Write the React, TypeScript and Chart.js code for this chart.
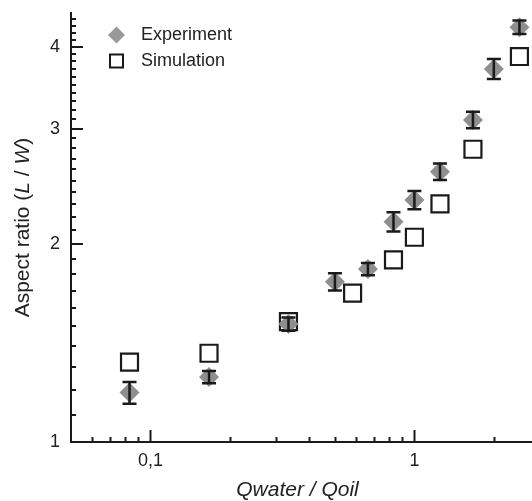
import React, { useEffect, useRef } from 'react';
import { Chart, registerables } from 'chart.js';

Chart.register(...registerables);

// ---- data ----
const expX = [0.0833, 0.1667, 0.3333, 0.5, 0.6667, 0.8333, 1, 1.25, 1.6667, 2, 2.5];
const expY = [1.189, 1.256, 1.512, 1.754, 1.834, 2.165, 2.336, 2.58, 3.093, 3.699, 4.282];
const expErr = [0.045, 0.027, 0.035, 0.053, 0.039, 0.073, 0.075, 0.075, 0.09, 0.13, 0.1];

const simX = [0.0833, 0.1667, 0.3333, 0.5833, 0.8333, 1, 1.25, 1.6667, 2.5];
const simY = [1.323, 1.365, 1.525, 1.685, 1.894, 2.05, 2.304, 2.791, 3.863];

const xMajorTicks = [0.1, 1];
const xMajorLabels = ['0,1', '1'];
const xMinorTicks = [0.06, 0.07, 0.08, 0.09, 0.2, 0.3, 0.4, 0.5, 0.6, 0.7, 0.8, 0.9, 2];
const yMajorTicks = [1, 2, 3, 4];
const yMajorLabels = ['1', '2', '3', '4'];
const yMinorTicks = [
  1.1, 1.2, 1.3, 1.4, 1.5, 1.6, 1.7, 1.8, 1.9,
  2.1, 2.2, 2.3, 2.4, 2.5, 2.6, 2.7, 2.8, 2.9,
  3.1, 3.2, 3.3, 3.4, 3.5, 3.6, 3.7, 3.8, 3.9,
  4.1, 4.2, 4.3, 4.4,
];

const seriesNames = ['Experiment', 'Simulation'];
const xTitle = 'Qwater / Qoil';

const FONT = '"Liberation Sans", Arial, Helvetica, sans-serif';
const INK = '#1a1a1a';
const GREY = '#8f8f8f';

const decor = {
  id: 'decor',
  afterDatasetsDraw(chart: any) {
    const { ctx, scales } = chart;
    const x = scales.x;
    const y = scales.y;
    ctx.save();
    ctx.strokeStyle = INK;
    ctx.lineWidth = 2.5;
    expX.forEach((xv, i) => {
      const px = x.getPixelForValue(xv);
      const top = y.getPixelForValue(expY[i] + expErr[i]);
      const bot = y.getPixelForValue(expY[i] - expErr[i]);
      ctx.beginPath();
      ctx.moveTo(px, top);
      ctx.lineTo(px, bot);
      ctx.moveTo(px - 7, top);
      ctx.lineTo(px + 7, top);
      ctx.moveTo(px - 7, bot);
      ctx.lineTo(px + 7, bot);
      ctx.stroke();
    });
    ctx.restore();
  },
  afterDraw(chart: any) {
    const { ctx, scales, chartArea } = chart;
    const x = scales.x;
    const y = scales.y;
    ctx.save();
    ctx.strokeStyle = INK;
    ctx.lineWidth = 2;
    const bottom = chartArea.bottom;
    const left = chartArea.left;
    const drawX = (v: number, len: number) => {
      const px = Math.round(x.getPixelForValue(v)) + 0.5;
      ctx.beginPath();
      ctx.moveTo(px, bottom);
      ctx.lineTo(px, bottom - len);
      ctx.stroke();
    };
    const drawY = (v: number, len: number) => {
      const py = Math.round(y.getPixelForValue(v));
      ctx.beginPath();
      ctx.moveTo(left, py);
      ctx.lineTo(left + len, py);
      ctx.stroke();
    };
    xMinorTicks.forEach((v) => drawX(v, 5));
    xMajorTicks.forEach((v) => drawX(v, 12));
    yMinorTicks.forEach((v) => drawY(v, 5));
    yMajorTicks.forEach((v) => drawY(v, 12));

    // x title
    ctx.fillStyle = '#222';
    ctx.font = `italic 21px ${FONT}`;
    ctx.textAlign = 'center';
    ctx.textBaseline = 'alphabetic';
    ctx.fillText(xTitle, (chartArea.left + chartArea.right) / 2 - 4, 496);

    // y title with italic parts
    const parts: [string, boolean][] = [
      ['Aspect ratio (', false],
      ['L', true],
      [' / ', false],
      ['W', true],
      [')', false],
    ];
    const fontFor = (it: boolean) => `${it ? 'italic ' : ''}21px ${FONT}`;
    let total = 0;
    parts.forEach(([t, it]) => {
      ctx.font = fontFor(it);
      total += ctx.measureText(t).width;
    });
    ctx.translate(29, (chartArea.top + chartArea.bottom) / 2);
    ctx.rotate(-Math.PI / 2);
    ctx.textAlign = 'left';
    let cx = -total / 2;
    parts.forEach(([t, it]) => {
      ctx.font = fontFor(it);
      ctx.fillText(t, cx, 0);
      cx += ctx.measureText(t).width;
    });
    ctx.setTransform(1, 0, 0, 1, 0, 0);

    // legend
    const lx = 116.5;
    const ly1 = 35;
    const ly2 = 61;
    ctx.fillStyle = '#999999';
    ctx.beginPath();
    ctx.moveTo(lx - 8.5, ly1);
    ctx.lineTo(lx, ly1 - 8.5);
    ctx.lineTo(lx + 8.5, ly1);
    ctx.lineTo(lx, ly1 + 8.5);
    ctx.closePath();
    ctx.fill();
    ctx.strokeStyle = INK;
    ctx.lineWidth = 2;
    ctx.strokeRect(lx - 6.5, ly2 - 6.5, 13, 13);
    ctx.fillStyle = '#222';
    ctx.font = `18px ${FONT}`;
    ctx.textAlign = 'left';
    ctx.textBaseline = 'middle';
    ctx.fillText(seriesNames[0], 141, ly1);
    ctx.fillText(seriesNames[1], 141, ly2);
    ctx.restore();
  },
};

export default function App() {
  const ref = useRef<HTMLCanvasElement | null>(null);
  useEffect(() => {
    if (!ref.current) return;
    const chart = new Chart(ref.current, {
      type: 'scatter',
      data: {
        datasets: [
          {
            label: seriesNames[0],
            data: expX.map((v, i) => ({ x: v, y: expY[i] })),
            pointStyle: 'rectRot',
            pointRadius: 10,
            pointHoverRadius: 10,
            backgroundColor: GREY,
            borderColor: GREY,
            borderWidth: 0,
          },
          {
            label: seriesNames[1],
            data: simX.map((v, i) => ({ x: v, y: simY[i] })),
            pointStyle: 'rect',
            pointRadius: 12,
            pointHoverRadius: 12,
            backgroundColor: 'rgba(0,0,0,0)',
            borderColor: INK,
            borderWidth: 2.2,
          },
        ],
      },
      plugins: [decor],
      options: {
        animation: false,
        responsive: false,
        events: [],
        layout: { autoPadding: false, padding: { top: 13, right: 0, bottom: 0, left: 0 } },
        plugins: { legend: { display: false }, tooltip: { enabled: false } },
        scales: {
          x: {
            type: 'logarithmic',
            min: 0.05,
            max: 2.79,
            afterFit: (s: any) => {
              s.height = 59;
              s.paddingLeft = 0;
              s.paddingRight = 0;
              s.paddingTop = 0;
              s.paddingBottom = 0;
            },
            afterBuildTicks: (s: any) => {
              s.ticks = xMajorTicks.map((v) => ({ value: v }));
            },
            grid: { display: true, drawOnChartArea: false, drawTicks: false },
            border: { display: true, color: INK, width: 2 },
            ticks: {
              autoSkip: false,
              maxRotation: 0,
              padding: 8,
              color: '#222',
              font: { family: FONT, size: 18 },
              callback: (v: any) => {
                const i = xMajorTicks.indexOf(Number(v));
                return i >= 0 ? xMajorLabels[i] : '';
              },
            },
          },
          y: {
            type: 'logarithmic',
            min: 1,
            max: 4.5,
            afterFit: (s: any) => {
              s.width = 71;
              s.paddingLeft = 0;
              s.paddingRight = 0;
              s.paddingTop = 0;
              s.paddingBottom = 0;
            },
            afterBuildTicks: (s: any) => {
              s.ticks = yMajorTicks.map((v) => ({ value: v }));
            },
            grid: { display: true, drawOnChartArea: false, drawTicks: false },
            border: { display: true, color: INK, width: 2 },
            ticks: {
              autoSkip: false,
              padding: 11,
              color: '#222',
              font: { family: FONT, size: 18 },
              callback: (v: any) => {
                const i = yMajorTicks.indexOf(Number(v));
                return i >= 0 ? yMajorLabels[i] : '';
              },
            },
          },
        },
      },
    } as any);
    return () => chart.destroy();
  }, []);
  return (
    <div style={{ position: 'fixed', left: 0, top: 0, width: 532, height: 501, background: '#fff' }}>
      <canvas ref={ref} width={532} height={501} style={{ display: 'block' }} />
    </div>
  );
}
